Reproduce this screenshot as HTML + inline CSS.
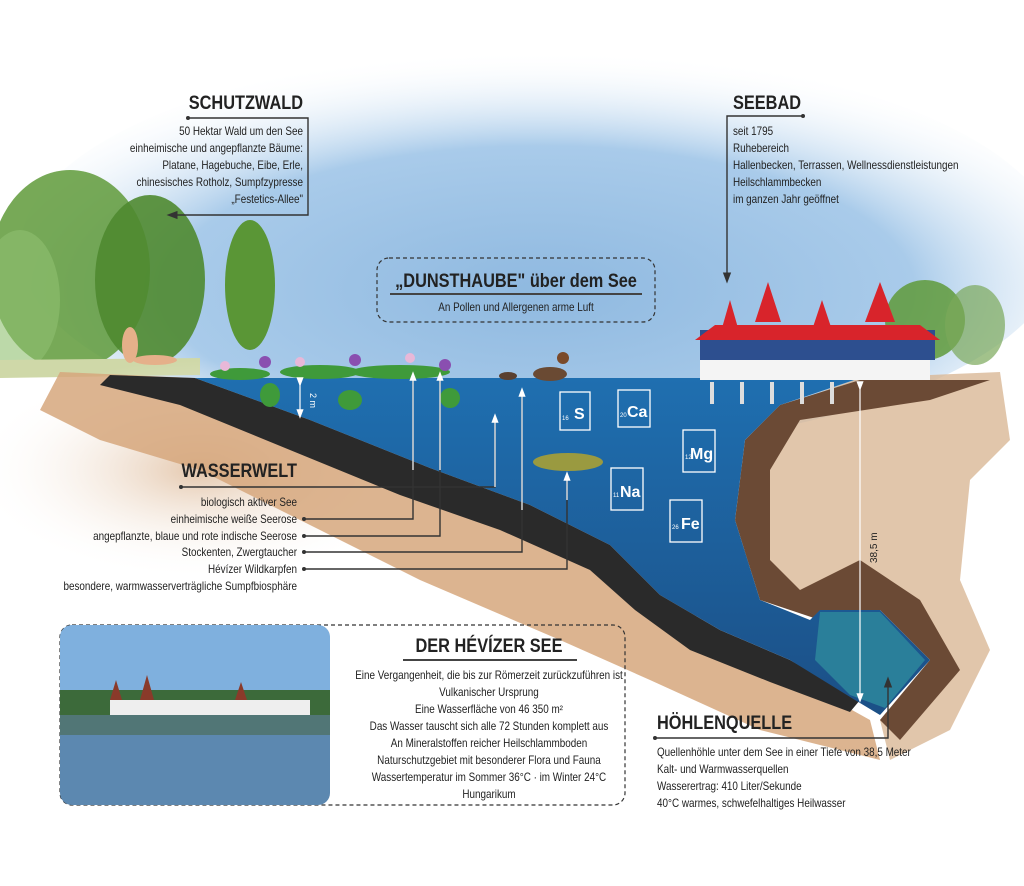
<!DOCTYPE html>
<html><head><meta charset="utf-8"><style>
html,body{margin:0;padding:0;background:#fff}
svg{display:block}
.t{font-family:"Liberation Sans Narrow","Liberation Sans",sans-serif;fill:#222}
.h{font-family:"Liberation Sans Narrow","Liberation Sans",sans-serif;font-weight:bold;fill:#222;font-size:19px}
.s{font-size:11.5px}
.ln{stroke:#333;stroke-width:1.4;fill:none}
.wl{stroke:#fff;stroke-width:1.2;fill:none}
</style></head><body>
<svg width="1024" height="886" viewBox="0 0 1024 886" xmlns="http://www.w3.org/2000/svg">
<defs>
<radialGradient id="sky" cx="0.5" cy="0.6" r="0.6">
<stop offset="0" stop-color="#8fb9e0"/><stop offset="0.6" stop-color="#a9cbea"/><stop offset="1" stop-color="#fff" stop-opacity="0"/>
</radialGradient>
<linearGradient id="water" x1="0" y1="0" x2="0" y2="1">
<stop offset="0" stop-color="#1f6fb0"/><stop offset="1" stop-color="#1b4f86"/>
</linearGradient>
<radialGradient id="fadeL" cx="0.5" cy="0.5" r="0.5"><stop offset="0" stop-color="#d9b08a"/><stop offset="1" stop-color="#fff" stop-opacity="0"/></radialGradient>
<marker id="ab" markerWidth="8" markerHeight="8" refX="4" refY="4" orient="auto"><path d="M0,1 L8,4 L0,7z" fill="#333"/></marker>
<marker id="aw" markerWidth="8" markerHeight="8" refX="4" refY="4" orient="auto"><path d="M0,1 L8,4 L0,7z" fill="#fff"/></marker>
</defs>
<ellipse cx="540" cy="250" rx="520" ry="200" fill="url(#sky)"/>
<ellipse cx="70" cy="270" rx="80" ry="100" fill="#5f9a3a" opacity="0.85"/>
<ellipse cx="150" cy="280" rx="55" ry="85" fill="#4f8a30" opacity="0.9"/>
<ellipse cx="250" cy="285" rx="25" ry="65" fill="#5a9636"/>
<ellipse cx="20" cy="300" rx="40" ry="70" fill="#8fbf70" opacity="0.6"/>
<ellipse cx="925" cy="320" rx="40" ry="40" fill="#5f9a3a" opacity="0.85"/>
<ellipse cx="975" cy="325" rx="30" ry="40" fill="#7aa85a" opacity="0.7"/>
<path d="M0,360 L200,358 L200,375 L0,378z" fill="#cfd8a8"/>
<ellipse cx="200" cy="470" rx="230" ry="110" fill="url(#fadeL)" opacity="0.7"/>
<path d="M60,372 L195,378 L320,420 L460,470 L560,515 L640,560 L700,620 L780,670 L870,720 L880,760 L760,730 L650,680 L560,640 L420,580 L300,520 L200,470 L100,440 L40,410z" fill="#d6a77c" opacity="0.85"/>
<path d="M860,378 L1000,372 L1010,440 L970,480 L960,580 L990,650 L950,730 L890,760 L880,720 L930,660 L900,600 L840,580 L780,600 L745,560 L740,470 L770,410z" fill="#d9b896" opacity="0.8"/>
<path d="M860,380 L990,380 L930,400 L800,420 L770,470 L770,560 L800,590 L860,560 L920,600 L960,670 L900,740 L880,720 L930,660 L880,610 L820,620 L760,600 L735,520 L745,440 L780,405z" fill="#6b4a35"/>
<path d="M110,375 L195,378 L310,420 L430,468 L530,505 L610,545 L660,595 L720,630 L790,660 L860,700 L850,712 L770,682 L690,650 L635,610 L590,570 L500,530 L400,495 L290,450 L180,405 L100,385z" fill="#2a2a2a"/>
<path d="M195,378 L860,378 L780,405 L745,440 L735,520 L760,600 L810,620 L820,610 L880,610 L930,660 L880,715 L855,700 L790,660 L720,630 L660,595 L610,545 L530,505 L430,468 L310,420z" fill="url(#water)"/>
<path d="M820,612 L880,612 L925,660 L885,708 L850,695 L815,660z" fill="#2a7f9a"/>
<g fill="#3f9a3a">
<ellipse cx="240" cy="374" rx="30" ry="6"/><ellipse cx="320" cy="372" rx="40" ry="7"/><ellipse cx="400" cy="372" rx="50" ry="7"/>
<ellipse cx="350" cy="400" rx="12" ry="10"/><ellipse cx="450" cy="398" rx="10" ry="10"/><ellipse cx="270" cy="395" rx="10" ry="12"/>
</g>
<g fill="#8a4fb0"><circle cx="265" cy="362" r="6"/><circle cx="355" cy="360" r="6"/><circle cx="445" cy="365" r="6"/></g>
<g fill="#e8b8d8"><circle cx="225" cy="366" r="5"/><circle cx="300" cy="362" r="5"/><circle cx="410" cy="358" r="5"/></g>
<ellipse cx="130" cy="345" rx="8" ry="18" fill="#e5b08a"/><ellipse cx="155" cy="360" rx="22" ry="5" fill="#e5b08a"/>
<ellipse cx="550" cy="374" rx="17" ry="7" fill="#6a4a33"/><circle cx="563" cy="358" r="6" fill="#7a4a2a"/>
<ellipse cx="508" cy="376" rx="9" ry="4" fill="#5a4030"/>
<rect x="700" y="330" width="235" height="30" fill="#2d4f8f"/>
<rect x="700" y="360" width="230" height="20" fill="#f4f4f4"/>
<path d="M695,340 L940,340 L920,325 L715,325z" fill="#d8242b"/>
<path d="M720,335 L730,300 L740,335z M755,322 L768,282 L781,322z M812,330 L822,300 L832,330z M865,322 L880,282 L895,322z" fill="#d8242b"/>
<g fill="#ddd"><rect x="710" y="382" width="4" height="22"/><rect x="740" y="382" width="4" height="22"/><rect x="770" y="382" width="4" height="22"/><rect x="800" y="382" width="4" height="22"/><rect x="830" y="382" width="4" height="22"/></g>
<ellipse cx="568" cy="462" rx="35" ry="9" fill="#9a9a40"/>
<g fill="none" stroke="#fff" stroke-width="1.3">
<rect x="560" y="392" width="30" height="38"/><rect x="618" y="390" width="32" height="37"/><rect x="683" y="430" width="32" height="42"/><rect x="611" y="468" width="32" height="42"/><rect x="670" y="500" width="32" height="42"/>
</g>
<g class="t" style="font-weight:bold;font-size:16px">
<text x="574" y="419" style="fill:#fff">S</text><text x="627" y="417" style="fill:#fff">Ca</text><text x="690" y="459" style="fill:#fff">Mg</text><text x="620" y="497" style="fill:#fff">Na</text><text x="681" y="529" style="fill:#fff">Fe</text>
</g>
<g class="t" style="font-size:6px"><text x="562" y="420" style="fill:#fff">16</text><text x="620" y="417" style="fill:#fff">20</text><text x="685" y="459" style="fill:#fff">12</text><text x="613" y="497" style="fill:#fff">11</text><text x="672" y="529" style="fill:#fff">26</text></g>
<line x1="300" y1="382" x2="300" y2="414" class="wl" marker-start="url(#aw)" marker-end="url(#aw)"/>
<text class="t" x="310" y="393" transform="rotate(90 310 393)" style="fill:#fff;font-size:9px">2 m</text>
<line x1="860" y1="386" x2="860" y2="698" class="wl" marker-start="url(#aw)" marker-end="url(#aw)"/>
<text class="t" x="877" y="563" transform="rotate(-90 877 563)" style="font-size:10px">38,5 m</text>
<g transform="translate(303,0) scale(0.86,1) translate(-303,0)">
<text class="h" x="303" y="109" text-anchor="end">SCHUTZWALD</text>
<g class="t s" text-anchor="end">
<text x="303" y="135">50 Hektar Wald um den See</text>
<text x="303" y="152">einheimische und angepflanzte Bäume:</text>
<text x="303" y="169">Platane, Hagebuche, Eibe, Erle,</text>
<text x="303" y="186">chinesisches Rotholz, Sumpfzypresse</text>
<text x="303" y="203">„Festetics-Allee"</text>
</g></g>
<circle cx="188" cy="118" r="2" fill="#333"/>
<polyline class="ln" points="188,118 308,118 308,215 172,215" marker-end="url(#ab)"/>
<g transform="translate(733,0) scale(0.86,1) translate(-733,0)">
<text class="h" x="733" y="109">SEEBAD</text>
<g class="t s">
<text x="733" y="135">seit 1795</text>
<text x="733" y="152">Ruhebereich</text>
<text x="733" y="169">Hallenbecken, Terrassen, Wellnessdienstleistungen</text>
<text x="733" y="186">Heilschlammbecken</text>
<text x="733" y="203">im ganzen Jahr geöffnet</text>
</g></g>
<circle cx="803" cy="116" r="2" fill="#333"/>
<polyline class="ln" points="803,116 727,116 727,278" marker-end="url(#ab)"/>
<rect x="377" y="258" width="278" height="64" rx="12" fill="none" stroke="#333" stroke-width="1.2" stroke-dasharray="4,3"/>
<g transform="translate(516,0) scale(0.86,1) translate(-516,0)">
<text class="h" x="516" y="287" text-anchor="middle">„DUNSTHAUBE" über dem See</text>
<text class="t s" x="516" y="311" text-anchor="middle">An Pollen und Allergenen arme Luft</text>
</g>
<line x1="390" y1="294" x2="642" y2="294" stroke="#444" stroke-width="2"/>
<g transform="translate(297,0) scale(0.86,1) translate(-297,0)">
<text class="h" x="297" y="477" text-anchor="end">WASSERWELT</text>
<g class="t s" text-anchor="end">
<text x="297" y="506">biologisch aktiver See</text>
<text x="297" y="523">einheimische weiße Seerose</text>
<text x="297" y="540">angepflanzte, blaue und rote indische Seerose</text>
<text x="297" y="556">Stockenten, Zwergtaucher</text>
<text x="297" y="573">Hévízer Wildkarpfen</text>
<text x="297" y="590">besondere, warmwasserverträgliche Sumpfbiosphäre</text>
</g></g>
<circle cx="181" cy="487" r="2" fill="#333"/>
<polyline points="181,487 495,487 495,418" class="ln"/>
<line x1="495" y1="487" x2="495" y2="418" class="wl" marker-end="url(#aw)"/>
<g fill="#333"><circle cx="304" cy="519" r="2"/><circle cx="304" cy="536" r="2"/><circle cx="304" cy="552" r="2"/><circle cx="304" cy="569" r="2"/></g>
<polyline class="ln" points="304,519 413,519 413,378"/>
<polyline class="ln" points="304,536 440,536 440,378"/>
<polyline class="ln" points="304,552 522,552 522,395"/>
<polyline class="ln" points="304,569 567,569 567,478"/>
<line x1="413" y1="470" x2="413" y2="376" class="wl" marker-end="url(#aw)"/>
<line x1="440" y1="470" x2="440" y2="376" class="wl" marker-end="url(#aw)"/>
<line x1="522" y1="510" x2="522" y2="392" class="wl" marker-end="url(#aw)"/>
<line x1="567" y1="500" x2="567" y2="476" class="wl" marker-end="url(#aw)"/>
<rect x="60" y="625" width="565" height="180" rx="12" fill="none" stroke="#333" stroke-width="1.2" stroke-dasharray="4,3"/>
<clipPath id="pc"><rect x="60" y="625" width="270" height="180" rx="12"/></clipPath>
<g clip-path="url(#pc)">
<rect x="60" y="625" width="270" height="90" fill="#7fb0de"/>
<rect x="60" y="690" width="270" height="25" fill="#3c6a3a"/>
<rect x="110" y="700" width="200" height="15" fill="#eee"/>
<path d="M110,700 L116,680 L122,700z M140,700 L147,675 L154,700z M235,700 L241,682 L247,700z" fill="#8a3a2a"/>
<rect x="60" y="715" width="270" height="90" fill="#5c88b0"/>
<rect x="60" y="715" width="270" height="20" fill="#4a6a50" opacity="0.6"/>
</g>
<g transform="translate(489,0) scale(0.86,1) translate(-489,0)">
<text class="h" x="489" y="652" text-anchor="middle">DER HÉVÍZER SEE</text>
<g class="t s" text-anchor="middle">
<text x="489" y="679">Eine Vergangenheit, die bis zur Römerzeit zurückzuführen ist</text>
<text x="489" y="696">Vulkanischer Ursprung</text>
<text x="489" y="713">Eine Wasserfläche von 46 350 m²</text>
<text x="489" y="730">Das Wasser tauscht sich alle 72 Stunden komplett aus</text>
<text x="489" y="747">An Mineralstoffen reicher Heilschlammboden</text>
<text x="489" y="764">Naturschutzgebiet mit besonderer Flora und Fauna</text>
<text x="489" y="781">Wassertemperatur im Sommer 36°C  ·  im Winter 24°C</text>
<text x="489" y="798">Hungarikum</text>
</g></g>
<line x1="403" y1="660" x2="577" y2="660" stroke="#444" stroke-width="2"/>
<g transform="translate(657,0) scale(0.86,1) translate(-657,0)">
<text class="h" x="657" y="729">HÖHLENQUELLE</text>
<g class="t s">
<text x="657" y="756">Quellenhöhle unter dem See in einer Tiefe von 38,5 Meter</text>
<text x="657" y="773">Kalt- und Warmwasserquellen</text>
<text x="657" y="790">Wasserertrag: 410 Liter/Sekunde</text>
<text x="657" y="807">40°C warmes, schwefelhaltiges Heilwasser</text>
</g></g>
<circle cx="655" cy="738" r="2" fill="#333"/>
<polyline class="ln" points="655,738 888,738 888,682" marker-end="url(#ab)"/>
</svg>
</body></html>
